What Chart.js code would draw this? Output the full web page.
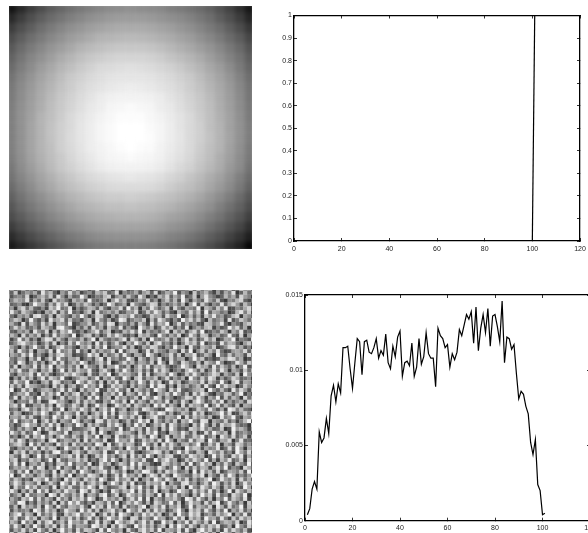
<!DOCTYPE html>
<html lang="en">
<head>
<meta charset="UTF-8">
<title>Four panels</title>
<script src="https://cdn.jsdelivr.net/npm/chart.js"></script>
<style>
html, body { margin: 0; padding: 0; background: #fff; overflow: hidden; width: 588px; height: 533px; }
.panel { position: absolute; }
.crop { position: absolute; overflow: hidden; }
.crop .panel { left: -3px; top: -3px; width: 249px; height: 249px; }
#smooth { filter: blur(2px); }
#noise { filter: blur(0.7px); }
.plot { filter: blur(0.3px); }
</style>
</head>
<body>
<div class="crop" style="left:9px;top:6px;width:243px;height:243px"><div class="panel"><canvas id="smooth"></canvas></div></div>
<div class="crop" style="left:9px;top:290px;width:243px;height:243px"><div class="panel"><canvas id="noise"></canvas></div></div>
<div class="panel" style="left:262px;top:0;width:326px;height:265px"><canvas id="stepPlot" class="plot"></canvas></div>
<div class="panel" style="left:262px;top:280px;width:338px;height:260px"><canvas id="curvePlot" class="plot"></canvas></div>

<script>
// top left image, estimated brightness (percent) on a coarse grid
const smoothRows = [
  [8,16,24,30,36,40,44,47,50,52,54,55,56,55,54,53,50,48,45,42,38,32,26,18,9],
  [16,24,31,37,42,46,50,53,56,58,60,61,61,61,60,58,56,54,51,47,43,37,31,24,15],
  [24,31,37,43,48,52,56,59,62,64,66,67,67,67,66,64,62,59,56,52,48,43,37,30,22],
  [30,37,43,48,53,57,61,64,67,70,71,72,73,72,71,69,67,64,61,57,53,48,42,36,28],
  [35,42,48,53,58,62,66,70,73,75,77,78,78,78,77,75,72,69,66,62,58,53,47,41,33],
  [39,46,52,57,62,67,71,75,78,80,82,83,83,83,82,80,77,74,71,67,62,57,51,45,37],
  [42,49,55,61,66,71,75,79,82,85,86,87,88,87,86,84,82,79,75,71,66,61,55,48,40],
  [45,52,58,64,69,74,79,82,85,87,89,90,90,90,89,87,85,82,79,74,69,64,58,51,43],
  [47,54,60,66,71,76,80,84,87,89,91,92,93,92,91,89,87,84,80,76,71,66,60,53,45],
  [48,55,61,67,73,78,82,86,89,92,94,95,95,95,94,92,89,86,82,78,73,67,61,54,46],
  [49,56,62,68,74,79,83,87,91,93,96,97,98,97,96,93,91,87,83,79,74,68,62,55,47],
  [50,57,63,70,75,80,85,89,92,95,97,99,99,99,97,95,92,89,85,80,75,69,63,56,48],
  [50,57,64,70,76,81,85,90,93,96,98,100,100,100,98,96,93,89,85,81,75,70,63,57,49],
  [50,57,64,70,76,81,86,90,93,96,98,100,100,100,99,96,93,90,85,81,76,70,64,57,49],
  [50,57,64,70,75,81,85,89,93,95,97,99,100,99,98,95,92,89,85,80,75,70,63,56,48],
  [49,56,63,69,74,79,84,88,91,94,96,97,98,97,96,94,91,88,84,79,74,68,62,55,47],
  [47,55,61,67,73,78,82,86,89,92,94,95,95,95,94,92,89,85,82,77,72,67,60,54,45],
  [45,52,58,64,69,74,78,82,85,87,89,90,91,90,89,87,84,81,77,73,68,63,57,50,42],
  [42,49,55,61,66,71,75,78,81,83,85,86,86,86,85,83,80,77,74,70,65,60,54,47,39],
  [38,45,51,56,61,66,70,73,76,78,80,80,81,80,79,77,75,72,69,65,60,55,49,42,34],
  [34,41,47,52,57,61,65,69,71,73,75,75,76,75,74,72,70,67,64,60,56,50,44,38,30],
  [30,36,42,47,52,56,60,63,66,68,69,70,70,70,69,67,64,62,59,55,50,45,39,33,25],
  [24,30,36,41,46,50,54,57,60,62,63,64,64,64,63,61,58,56,53,49,44,39,33,27,19],
  [17,23,29,34,39,43,47,50,53,55,56,57,57,57,56,54,51,49,46,42,37,32,26,20,12],
  [10,16,22,27,32,36,40,43,46,48,49,50,50,50,49,47,45,42,39,35,30,25,19,13,3]
];

// bottom left image, hand-estimated grain (one hex digit per cell)
const noiseRows = [
  "6a47b5839c62758a4d6b937f5482a6c3596e7248b3a5768d4c69a2857b36d894",
  "85c3697a4e8b5296d7a3684b9c57e2867a49b5d36a8f4972c58b6394a7e25b68",
  "a4786d259b7c4e83a56f92476bd38a5c74e9263b8d5a7f46c29e8635b7a4d972",
  "37b98e4a6c52d7963b8a4f657c29e8b436a7d5928c6b4f83a75e96c4287bd536",
  "c568327fa94b6e8d25a7c94836fb57a2e8649dc3857a6b29f4c7386e5ad94b72",
  "792ad6b5483c9f67e2847ba5c6398d4f7b2a6e958c3d74a86f2b95c7e3486ad5",
  "4e85c97362a8d4b6f5739c2e68a7b4598d36c7ea5942b86d7c3f5a96824be7c3",
  "b6397a4de85b2c964a7f836dc5294ba8e6735c9a4d87f26b5a3c8e7946bd2a85",
  "58ca26f7493e8ad5c6749b2e85a36fd4798c2b5ea6384f9d7c52b68a3e47c96a",
  "9a63e4b85d7c2a96f3588c47b6ed2975a4c83e6b9f27d5a6843cb79e52864ac7",
  "27d8b5694ca73ef86295b4d7a3c86e4952fa7b36d8c495e27a6bc3846f9d5a28",
  "c5497a3e86d2b5c9f64837ae59c264b8d7f3a6859e2c7b4ad6f3586c92a7e463",
  "6b82d5a7c394e6a85f27bc4936d8ea5472c9b63f85a7d26e94cb38a57f64d29b",
  "a37f6b4829ed5c73a86b49f2c7586ae3d94b2f768c5a39e6b47d8c25a9f3764e",
  "458ce97a36b5d284c6f97a3e5b48d62a7f95c3be684a27d9c5f3684e7ba529c6",
  "d962a48f75c36be7952a8d4c6f3798e5b24a7dc6395f8a2e64b97c358de6a472",
  "7b4e85c2a96d3f78b4e592c6a78d3f49ba26e5c874a93d6f28c5b7e6349a8d5c",
  "3a86d7f4952b6ce8a3547f9d2b68c5e73a94fb6278d5c3a9e46b82f75c6a94d7",
  "c75a92b6e38d4f75a9c2684be3d7956fa2c84b7e35d69a27f8c4635b9ed7a248",
  "684fb37c5a29e6d48b7fa359c6e248d7b5a96c3f82e74da65b3c97f8246ea5c9",
  "95d2a86e4c7f3b95a6d2e874c3a9f65b28d7e4a9c6358fb72d9a4e6c85b37f46",
  "4b7e65c93a8d27f4b6c98e53ad72b6f948c5a3e7d92684bfa5c37d6e92a84c6b",
  "e63a89d4f7b5268c9ea73d54b8f26c9a75e4d38ab6f925c7e8469db3a75c2f86",
  "7294c6b38e5da7f4269cb58e3a7d64f92be5a8c37d496a2f85c6eb3947da5682",
  "a5d87f3629b4ec5783fa6d94c2b7e583a6f94d7c25e8b36a97d4c85f62be4a93",
  "3c6b4ea97582d6c39b47f8a5e26d9c73b5a84f6ed392c7a58b4e63f7d9a25c86",
  "8f25d7c36ab948e5d72c6a9f34b8e75d2c96a4fb83d7e5469ac2f85b63e7d94a",
  "b47a9e562d8c7f3a6be495d72a8c6f3b95e7d42a8c6f95b3d7ea4286cb59f374",
  "56e3c8a4f79b26d5a8c73e6f49b2d8a57c3e96fb4a7258dc6e93a7f4c5b82d69",
  "c92786d5b34ef9a627d5c8b43a7e96d2f5b84c7a6e395d82bfa46c7e3958a4db",
  "7ad5f3498c6b2ea57d94c36f8b25ea7d4c96a3f8e5b72d4c9a6f38e5b74c2a96",
  "4683be7a5c9d46f28b7ea5c39d6f48b27a5ec9634fd8a7b25c96e84a3fd7b652",
  "e5b9246c8fa37d5b96e4a28c7f5d3ba69e427c8fd5a36b94e7c258af6d349c7e",
  "29a7d6c53b84f96ea2c75d8b4e693fa7c5d28be64a97f3d5c8a6b24e79f53a8d",
  "b6f48a7e29d5c3a86fb4972ed5c8a36b47f9e2d85a6c3b9f74ed2a86c5937bf4",
  "6835cf9a4b7e6d2895fa3c7b64d8e92a5f7c36b8d4ea5972c6f83b4d9ae7562c",
  "d74a6b82e5c93f7ad4568be2c9a75f36d8b4e7a2c5f9463db8e7a56c24f9b83a",
  "3e96c57fa24db86e39a7c5d4f826be9a73c5d8f462ba7e95c34d6fa8b2e57964",
  "a5827d4c9f6b3ae75c84d96f2ba3e758c6d94fb27e3a8d56c9f47b2ea6d58c39",
  "7c6ea3958b2df47a96c3e5b86d24f9a7e35c8b6d4f92a75e6bc3f84a9d27e564",
  "48bd92f6c5a73e8b4d7a695fc2e48d7ba36f95c2e7d84ab69f35c7e2a84db695",
  "f5397a6e4d8cb25f97a3e6c48bd75a2f96c4e3b8a7d562f9cb4a78e36d5f92a7",
  "62c8d4b7a395ef682bd74ca96e35f8a7d4269bec5a38f7d64b92ea7c583fa6d4",
  "9b74ea26f5c8739ad6e4b25c8f7a49d3e6b5f82a7cd4396eb8a25f7c64d9e3a5",
  "5ad386c9b47f2e65a9d8c374bf6e82a5c97d43f6be8a25c7d96f4a3b8e57c2d6",
  "c7e5f29a6d483bc7f5a96e24d8b37ca5f6e89423db7a6c5f48e9b2a6d73c85f4",
  "36a8b7d5ec296f4a83d7c5b9e64a27f8d5c3b96ea47f82d5c6ba39e7f4862da5",
  "d94c6f3a7b85e2d96c4fa738be5d96c24a7fe83b5d9c67a2f4e8b5d36a97c4f2",
  "7f25e8a49c63d7b5f28a6ec94b37d5f8a6c29eb4d73fa865c9e2b74d6fa3859e",
  "a6c9473db8f5a62e7c94d8b5fa36e79c4d28b5fa6e93c7d4a58bf26e97c3d6a4",
  "48ea5b96d27c83fa5e6d49c7b28fa5d6e374c9b8f2a65de7938c5fb4a6d27e89",
  "b3d76f8c5a94e2b7d65c8fa3e9467bd2c8f5a3e6d97b4c2f85ea6d93b7c54fa2",
  "6e92a5c4f7d38b6e9a4fc5d7283ea6b9f4d5c7e28a36fb94d7c6e5a28f3d96b7",
  "d58b3e67a92fc4d86b7e3a95cf48d26ea7b5c94f3e8d6a72b5f9c4e683da7f25",
  "2a74c9f5d6b83e7a4c9d6fb25e8a7c39d6f4e2b85a9c73fd6e84b2a7f5c96e38",
  "c96fe384b7a5d2c6f9e7483ba6d5f27c8e94b3da67f5c28e9a4d6bf37e85a2c6",
  "75b2d8a6c3f94e75ba8d62f9c4e7a3d586bf29c7e4a8d36f5b97c2ea4d68f3b9",
  "e4a6793fc5d8b26ea94f7d5c38be6a2f97d4c5e8b36af72d9c5e84b6f3a7d592",
  "38cf5b92e6a7d43c8bf6a9e27d5c4fb83a6e9d7c25b4f86ead3795c8bf2a6e47",
  "a7d46e8c3b95f2a7d6c48e5b39fa7e62dc4b85f9a36e7d2c8b4f9a5e73c6d8b5",
  "5b93f7a2d6ce48b5f9a7d36e4c82fb7ad59e6c34f8b2a7e5d96c4f38ba7d25e9",
  "c6e82a5f94b7d3c6e5a984fd7b2c6ea53f8d7b49c2e6fa5d83b7c9e46a2f85d7",
  "94a7d6b3e85c29f7a4d6cb83e5f97a2d64be8c5f3a97d4e62bf8c5a3e7d96b42",
  "7d5cb28fa6e493d7c6f82a5eb94d7c36fa5e82b6d9c4f7a35e8d6b2fc94a7e58"
];

// top right plot
const stepX = [100, 101];
const stepY = [0, 1];
const stepXTicks = [0, 20, 40, 60, 80, 100, 120];
const stepYTicks = [0, 0.1, 0.2, 0.3, 0.4, 0.5, 0.6, 0.7, 0.8, 0.9, 1];

// bottom right plot, one value per sample starting at 1
const curveY = [
  0.0004, 0.0008, 0.0021, 0.0026, 0.0021, 0.0059, 0.0052, 0.0055, 0.0068, 0.0058,
  0.0083, 0.0090, 0.0079, 0.0091, 0.0085, 0.0115, 0.0115, 0.0116, 0.0101, 0.0088,
  0.0105, 0.0121, 0.0119, 0.0097, 0.0119, 0.0120, 0.0112, 0.0111, 0.0115, 0.0121,
  0.0108, 0.0113, 0.0110, 0.0124, 0.0105, 0.0101, 0.0116, 0.0109, 0.0122, 0.0126,
  0.0096, 0.0105, 0.0106, 0.0103, 0.0118, 0.0096, 0.0102, 0.0121, 0.0104, 0.0109,
  0.0125, 0.0111, 0.0108, 0.0108, 0.0089, 0.0128, 0.0123, 0.0121, 0.0115, 0.0117,
  0.0102, 0.0111, 0.0107, 0.0112, 0.0127, 0.0123, 0.0130, 0.0137, 0.0134, 0.0139,
  0.0118, 0.0142, 0.0113, 0.0128, 0.0137, 0.0125, 0.0141, 0.0116, 0.0136, 0.0137,
  0.0129, 0.0119, 0.0146, 0.0105, 0.0122, 0.0121, 0.0114, 0.0117, 0.0098, 0.0081,
  0.0086, 0.0084, 0.0076, 0.0071, 0.0052, 0.0044, 0.0054, 0.0024, 0.0020, 0.0004,
  0.0005
];
const curveXTicks = [0, 20, 40, 60, 80, 100, 120];
const curveYTicks = [0, 0.005, 0.01, 0.015];

Chart.defaults.animation = false;
Chart.defaults.font.family = '"Liberation Sans", Arial, sans-serif';
Chart.defaults.font.size = 7;
Chart.defaults.color = '#222';

function imageChart(id, cells, colors, cols, rows, radius) {
  new Chart(document.getElementById(id), {
    type: 'scatter',
    data: { datasets: [{ data: cells, pointStyle: 'rect', pointRadius: radius, pointBorderWidth: 0, backgroundColor: colors }] },
    options: {
      responsive: true,
      maintainAspectRatio: false,
      layout: { padding: 0, autoPadding: false },
      plugins: { legend: { display: false }, tooltip: { enabled: false } },
      scales: {
        x: { display: false, min: -0.5, max: cols - 0.5 },
        y: { display: false, min: -0.5, max: rows - 0.5, reverse: true }
      }
    }
  });
}

function gridCells(rows, read) {
  const cells = [], colors = [];
  rows.forEach((row, r) => {
    for (let c = 0; c < row.length; c++) {
      cells.push({ x: c, y: r });
      const g = read(row[c]);
      colors.push(`rgb(${g},${g},${g})`);
    }
  });
  return { cells, colors };
}

const smoothGrid = gridCells(smoothRows, v => Math.round(v * 2.55));
imageChart('smooth', smoothGrid.cells, smoothGrid.colors, 25, 25, 7.3);

const noiseGrid = gridCells(noiseRows, d => 30 + parseInt(d, 16) * 14);
imageChart('noise', noiseGrid.cells, noiseGrid.colors, 64, 64, 2.85);

// matlab style axes: box with inward ticks on all four sides
function frameAxis(axis, position, lo, hi, ticks, size, labelled, pad) {
  return {
    type: 'linear',
    axis: axis,
    position: position,
    min: lo,
    max: hi,
    border: { display: true, color: '#000', width: 1.3 },
    grid: { drawOnChartArea: false, drawTicks: true, tickLength: -3, color: '#000', lineWidth: 0.8 },
    ticks: {
      display: labelled,
      padding: pad,
      autoSkip: false,
      maxRotation: 0,
      callback: v => String(v)
    },
    afterBuildTicks: s => { s.ticks = ticks.map(v => ({ value: v })); },
    afterFit: s => {
      if (axis === 'x') s.height = size; else s.width = size;
      // no extra room for half a label at the axis ends
      s.paddingLeft = s.paddingRight = s.paddingTop = s.paddingBottom = 0;
    }
  };
}

function linePlot(id, xs, ys, xMax, yMax, xTicks, yTicks, left, top, right, bottom) {
  new Chart(document.getElementById(id), {
    type: 'scatter',
    data: {
      datasets: [{
        data: xs.map((x, i) => ({ x: x, y: ys[i] })),
        showLine: true,
        borderColor: '#000',
        borderWidth: 1.2,
        pointRadius: 0,
        xAxisID: 'x',
        yAxisID: 'y'
      }]
    },
    options: {
      responsive: true,
      maintainAspectRatio: false,
      layout: { padding: { left: 0, top: top, right: right, bottom: 0 } },
      plugins: { legend: { display: false }, tooltip: { enabled: false } },
      scales: {
        x: frameAxis('x', 'bottom', 0, xMax, xTicks, bottom, true, 6.5),
        y: frameAxis('y', 'left', 0, yMax, yTicks, left, true, 5),
        x2: frameAxis('x', 'top', 0, xMax, xTicks, 0, false, 0),
        y2: frameAxis('y', 'right', 0, yMax, yTicks, 0, false, 0)
      }
    }
  });
}

linePlot('stepPlot', stepX, stepY, 120, 1, stepXTicks, stepYTicks, 32, 15.5, 8, 24);
linePlot('curvePlot', curveY.map((v, i) => i + 1), curveY, 120, 0.015, curveXTicks, curveYTicks, 43, 15, 10, 19.3);
</script>
</body>
</html>
